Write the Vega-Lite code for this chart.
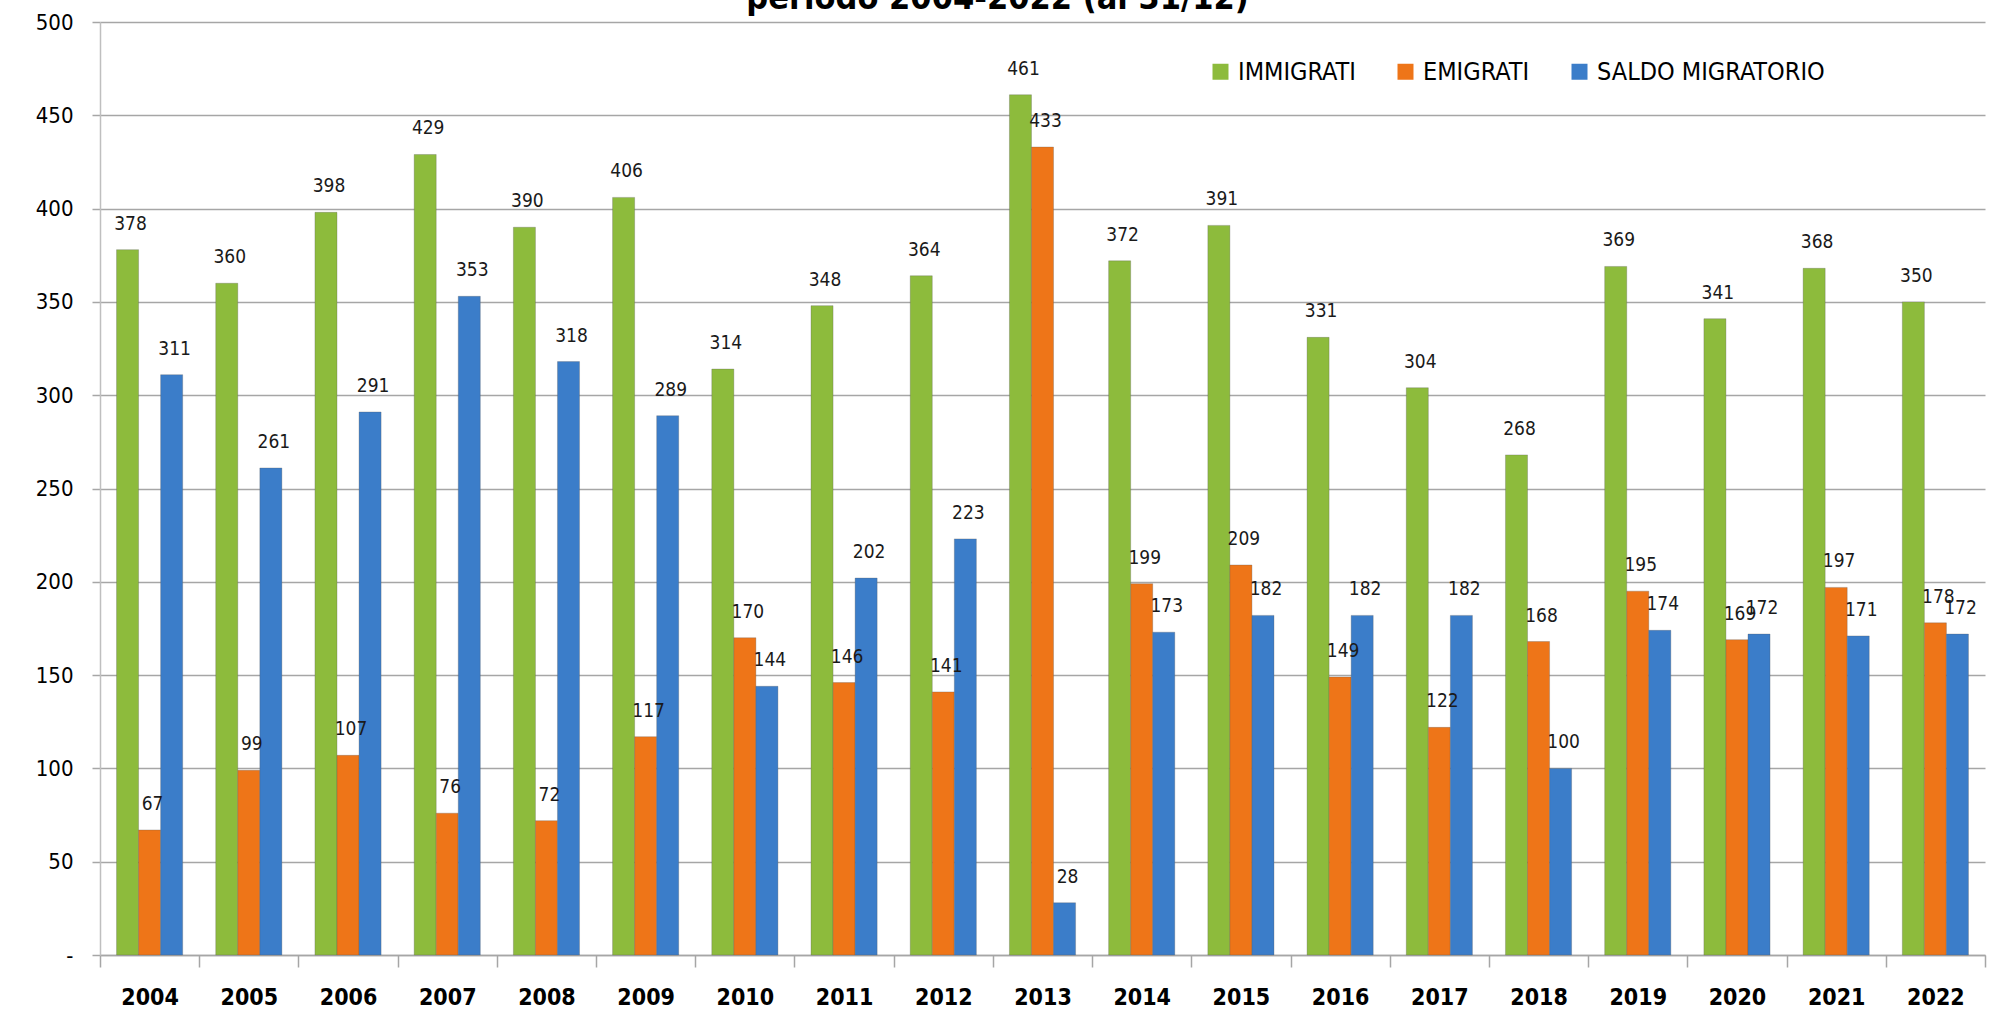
{
  "$schema": "https://vega.github.io/schema/vega-lite/v6.json",
  "width": 1885,
  "height": 933,
  "autosize": {"type": "none"},
  "padding": {"left": 100, "top": 22, "right": 19, "bottom": 61},
  "background": "#ffffff",
  "title": {
    "text": "periodo 2004-2022 (al 31/12)",
    "fontSize": 34,
    "font": "DejaVu Sans Condensed, Liberation Sans, sans-serif",
    "fontWeight": "bold",
    "color": "#000000",
    "anchor": "middle",
    "dx": -45,
    "dy": 40,
    "offset": 8,
    "baseline": "alphabetic"
  },
  "data": {
    "values": [
      {"anno": "2004", "serie": "IMMIGRATI", "valore": 378},
      {"anno": "2004", "serie": "EMIGRATI", "valore": 67},
      {"anno": "2004", "serie": "SALDO MIGRATORIO", "valore": 311},
      {"anno": "2005", "serie": "IMMIGRATI", "valore": 360},
      {"anno": "2005", "serie": "EMIGRATI", "valore": 99},
      {"anno": "2005", "serie": "SALDO MIGRATORIO", "valore": 261},
      {"anno": "2006", "serie": "IMMIGRATI", "valore": 398},
      {"anno": "2006", "serie": "EMIGRATI", "valore": 107},
      {"anno": "2006", "serie": "SALDO MIGRATORIO", "valore": 291},
      {"anno": "2007", "serie": "IMMIGRATI", "valore": 429},
      {"anno": "2007", "serie": "EMIGRATI", "valore": 76},
      {"anno": "2007", "serie": "SALDO MIGRATORIO", "valore": 353},
      {"anno": "2008", "serie": "IMMIGRATI", "valore": 390},
      {"anno": "2008", "serie": "EMIGRATI", "valore": 72},
      {"anno": "2008", "serie": "SALDO MIGRATORIO", "valore": 318},
      {"anno": "2009", "serie": "IMMIGRATI", "valore": 406},
      {"anno": "2009", "serie": "EMIGRATI", "valore": 117},
      {"anno": "2009", "serie": "SALDO MIGRATORIO", "valore": 289},
      {"anno": "2010", "serie": "IMMIGRATI", "valore": 314},
      {"anno": "2010", "serie": "EMIGRATI", "valore": 170},
      {"anno": "2010", "serie": "SALDO MIGRATORIO", "valore": 144},
      {"anno": "2011", "serie": "IMMIGRATI", "valore": 348},
      {"anno": "2011", "serie": "EMIGRATI", "valore": 146},
      {"anno": "2011", "serie": "SALDO MIGRATORIO", "valore": 202},
      {"anno": "2012", "serie": "IMMIGRATI", "valore": 364},
      {"anno": "2012", "serie": "EMIGRATI", "valore": 141},
      {"anno": "2012", "serie": "SALDO MIGRATORIO", "valore": 223},
      {"anno": "2013", "serie": "IMMIGRATI", "valore": 461},
      {"anno": "2013", "serie": "EMIGRATI", "valore": 433},
      {"anno": "2013", "serie": "SALDO MIGRATORIO", "valore": 28},
      {"anno": "2014", "serie": "IMMIGRATI", "valore": 372},
      {"anno": "2014", "serie": "EMIGRATI", "valore": 199},
      {"anno": "2014", "serie": "SALDO MIGRATORIO", "valore": 173},
      {"anno": "2015", "serie": "IMMIGRATI", "valore": 391},
      {"anno": "2015", "serie": "EMIGRATI", "valore": 209},
      {"anno": "2015", "serie": "SALDO MIGRATORIO", "valore": 182},
      {"anno": "2016", "serie": "IMMIGRATI", "valore": 331},
      {"anno": "2016", "serie": "EMIGRATI", "valore": 149},
      {"anno": "2016", "serie": "SALDO MIGRATORIO", "valore": 182},
      {"anno": "2017", "serie": "IMMIGRATI", "valore": 304},
      {"anno": "2017", "serie": "EMIGRATI", "valore": 122},
      {"anno": "2017", "serie": "SALDO MIGRATORIO", "valore": 182},
      {"anno": "2018", "serie": "IMMIGRATI", "valore": 268},
      {"anno": "2018", "serie": "EMIGRATI", "valore": 168},
      {"anno": "2018", "serie": "SALDO MIGRATORIO", "valore": 100},
      {"anno": "2019", "serie": "IMMIGRATI", "valore": 369},
      {"anno": "2019", "serie": "EMIGRATI", "valore": 195},
      {"anno": "2019", "serie": "SALDO MIGRATORIO", "valore": 174},
      {"anno": "2020", "serie": "IMMIGRATI", "valore": 341},
      {"anno": "2020", "serie": "EMIGRATI", "valore": 169},
      {"anno": "2020", "serie": "SALDO MIGRATORIO", "valore": 172},
      {"anno": "2021", "serie": "IMMIGRATI", "valore": 368},
      {"anno": "2021", "serie": "EMIGRATI", "valore": 197},
      {"anno": "2021", "serie": "SALDO MIGRATORIO", "valore": 171},
      {"anno": "2022", "serie": "IMMIGRATI", "valore": 350},
      {"anno": "2022", "serie": "EMIGRATI", "valore": 178},
      {"anno": "2022", "serie": "SALDO MIGRATORIO", "valore": 172}
    ]
  },
  "encoding": {
    "x": {
      "field": "anno",
      "type": "nominal",
      "title": null,
      "scale": {"paddingInner": 0, "paddingOuter": 0},
      "axis": {
        "labelAngle": 0,
        "labelFont": "DejaVu Sans Condensed, Liberation Sans, sans-serif",
        "labelFontSize": 23,
        "labelFontWeight": "bold",
        "labelColor": "#000000",
        "labelPadding": 19,
        "tickBand": "extent",
        "tickSize": 12,
        "tickColor": "#a6a6a6",
        "tickWidth": 1.5,
        "domainColor": "#a6a6a6",
        "domainWidth": 1.5,
        "grid": false
      }
    },
    "xOffset": {
      "field": "serie",
      "type": "nominal",
      "sort": ["IMMIGRATI", "EMIGRATI", "SALDO MIGRATORIO"],
      "scale": {"paddingInner": 0, "paddingOuter": 0.75}
    },
    "y": {
      "field": "valore",
      "type": "quantitative",
      "title": null,
      "scale": {"domain": [0, 500], "nice": false},
      "axis": {
        "values": [0, 50, 100, 150, 200, 250, 300, 350, 400, 450, 500],
        "labelExpr": "datum.value == 0 ? '-' : datum.label",
        "labelFont": "DejaVu Sans Condensed, Liberation Sans, sans-serif",
        "labelFontSize": 22,
        "labelColor": "#000000",
        "labelPadding": 19,
        "tickSize": 8,
        "tickColor": "#a6a6a6",
        "tickWidth": 1.5,
        "domainColor": "#bfbfbf",
        "domainWidth": 1.5,
        "gridColor": "#a6a6a6",
        "gridWidth": 1.5
      }
    }
  },
  "layer": [
    {
      "mark": {"type": "bar", "stroke": "#5a5a5a", "strokeWidth": 0.6, "strokeOpacity": 0.5},
      "encoding": {
        "color": {
          "field": "serie",
          "type": "nominal",
          "scale": {
            "domain": ["IMMIGRATI", "EMIGRATI", "SALDO MIGRATORIO"],
            "range": ["#8dbb3c", "#ee7518", "#3b7dc9"]
          },
          "legend": {
            "title": null,
            "orient": "none",
            "legendX": 1108,
            "legendY": 37,
            "direction": "horizontal",
            "symbolType": "square",
            "symbolSize": 256,
            "symbolStrokeWidth": 0,
            "labelFont": "DejaVu Sans Condensed, Liberation Sans, sans-serif",
            "labelFontSize": 25,
            "labelColor": "#000000",
            "labelOffset": 5,
            "labelLimit": 500,
            "columnPadding": 37,
            "padding": 0
          }
        }
      }
    },
    {
      "mark": {
        "type": "text",
        "baseline": "alphabetic",
        "dy": -20,
        "dx": 3,
        "font": "DejaVu Sans Condensed, Liberation Sans, sans-serif",
        "fontSize": 19,
        "color": "#1a1a1a"
      },
      "encoding": {
        "text": {"field": "valore", "type": "quantitative"}
      }
    }
  ],
  "config": {
    "view": {"stroke": null}
  }
}
